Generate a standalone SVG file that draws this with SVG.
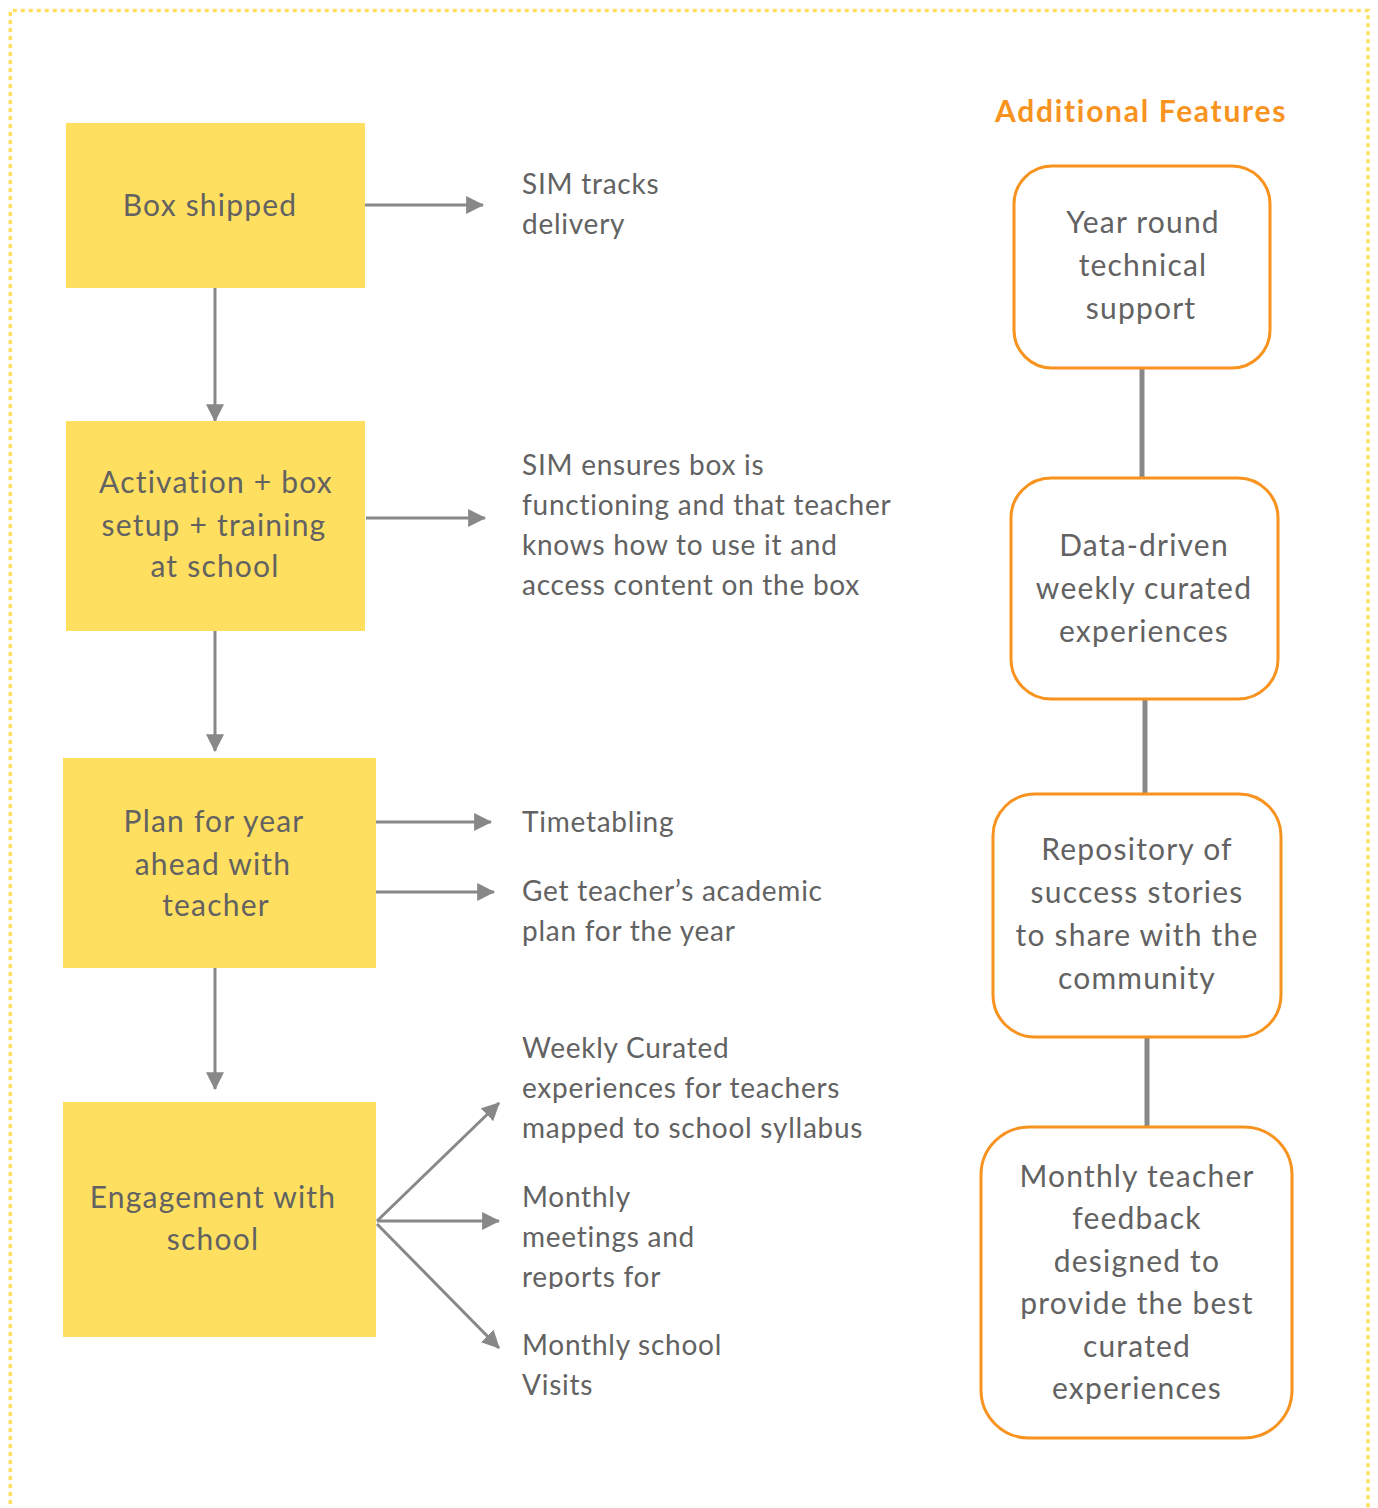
<svg xmlns="http://www.w3.org/2000/svg" width="1378" height="1508" viewBox="0 0 1378 1508">
<style>
.step{fill:#FFDF5F}
.feat{fill:#FFFFFF;stroke:#F7931E;stroke-width:3}
.t{font-family:Lato,"Open Sans","Liberation Sans",sans-serif;fill:#626262}
.c{text-anchor:middle;font-size:30px;letter-spacing:1.2px}
.s{font-size:28px;letter-spacing:0.75px}
.arr{stroke:#888888;stroke-width:3;fill:none;marker-end:url(#ah)}
.link{stroke:#888888;stroke-width:5;fill:none}
.title{font-family:Lato,"Open Sans","Liberation Sans",sans-serif;font-weight:bold;font-size:30px;letter-spacing:1.7px;fill:#F7931E}
</style>
<defs>
<marker id="ah" markerUnits="userSpaceOnUse" markerWidth="18" markerHeight="18" viewBox="0 0 16 16" refX="15" refY="8" orient="auto">
<path d="M0,0 L16,8 L0,16 Z" fill="#888888"/>
</marker>
<clipPath id="clipRep"><rect x="500" y="1150" width="300" height="139"/></clipPath>
</defs>
<rect x="0" y="0" width="1378" height="1508" fill="#FFFFFF"/>
<path d="M10.3,1520 L10.3,10.5 L1368,10.5 L1368,1520" fill="none" stroke="#FFDF5F" stroke-width="3.5" stroke-dasharray="4 4"/>

<g id="connectors">
<line class="arr" x1="215" y1="288" x2="215" y2="421"/>
<line class="arr" x1="215" y1="631" x2="215" y2="751"/>
<line class="arr" x1="215" y1="968" x2="215" y2="1089"/>
<line class="arr" x1="365" y1="205" x2="483" y2="205"/>
<line class="arr" x1="366" y1="518" x2="485" y2="518"/>
<line class="arr" x1="373" y1="822" x2="491" y2="822"/>
<line class="arr" x1="376" y1="892" x2="494" y2="892"/>
<line class="arr" x1="377" y1="1221" x2="499" y2="1103"/>
<line class="arr" x1="377" y1="1221" x2="499" y2="1221"/>
<line class="arr" x1="377" y1="1224" x2="499" y2="1348"/>
<line class="link" x1="1142" y1="368" x2="1142" y2="478"/>
<line class="link" x1="1145" y1="699" x2="1145" y2="794"/>
<line class="link" x1="1147" y1="1037" x2="1147" y2="1127"/>
</g>

<g id="box-shipped">
<rect class="step" x="66" y="123" width="299" height="165"/>
<text class="t c" x="210" y="216">Box shipped</text>
</g>
<g id="activation">
<rect class="step" x="66" y="421" width="299" height="210"/>
<text class="t c" x="216" y="493">Activation + box</text>
<text class="t c" x="214" y="536">setup + training</text>
<text class="t c" x="215" y="577">at school</text>
</g>
<g id="plan">
<rect class="step" x="63" y="758" width="313" height="210"/>
<text class="t c" x="214" y="832">Plan for year</text>
<text class="t c" x="213" y="875">ahead with</text>
<text class="t c" x="216" y="916">teacher</text>
</g>
<g id="engagement">
<rect class="step" x="63" y="1102" width="313" height="235"/>
<text class="t c" x="213" y="1208">Engagement with</text>
<text class="t c" x="213" y="1250">school</text>
</g>

<g id="sim-tracks">
<text class="t s" x="522" y="194">SIM tracks</text>
<text class="t s" x="522" y="234">delivery</text>
</g>
<g id="sim-ensures">
<text class="t s" x="522" y="475">SIM ensures box is</text>
<text class="t s" x="522" y="515">functioning and that teacher</text>
<text class="t s" x="522" y="555">knows how to use it and</text>
<text class="t s" x="522" y="595">access content on the box</text>
</g>
<g id="timetabling">
<text class="t s" x="522" y="832">Timetabling</text>
</g>
<g id="academic-plan">
<text class="t s" x="522" y="901">Get teacher’s academic</text>
<text class="t s" x="522" y="941">plan for the year</text>
</g>
<g id="weekly-curated">
<text class="t s" x="522" y="1058">Weekly Curated</text>
<text class="t s" x="522" y="1098">experiences for teachers</text>
<text class="t s" x="522" y="1138">mapped to school syllabus</text>
</g>
<g id="monthly-meetings" clip-path="url(#clipRep)">
<text class="t s" x="522" y="1207">Monthly</text>
<text class="t s" x="522" y="1247">meetings and</text>
<text class="t s" x="522" y="1287">reports for</text>
</g>
<g id="monthly-visits">
<text class="t s" x="522" y="1355">Monthly school</text>
<text class="t s" x="522" y="1395">Visits</text>
</g>

<g id="additional-features-title">
<text class="title" x="995" y="122">Additional Features</text>
</g>
<g id="tech-support">
<rect class="feat" x="1014" y="166" width="256" height="202" rx="38"/>
<text class="t c" x="1143" y="233">Year round</text>
<text class="t c" x="1143" y="276">technical</text>
<text class="t c" x="1141" y="319">support</text>
</g>
<g id="data-driven">
<rect class="feat" x="1011" y="478" width="267" height="221" rx="40"/>
<text class="t c" x="1144" y="556">Data-driven</text>
<text class="t c" x="1144" y="599">weekly curated</text>
<text class="t c" x="1144" y="642">experiences</text>
</g>
<g id="repository">
<rect class="feat" x="993" y="794" width="288" height="243" rx="42"/>
<text class="t c" x="1137" y="860">Repository of</text>
<text class="t c" x="1137" y="903">success stories</text>
<text class="t c" x="1137" y="946">to share with the</text>
<text class="t c" x="1137" y="989">community</text>
</g>
<g id="teacher-feedback">
<rect class="feat" x="981" y="1127" width="311" height="311" rx="48"/>
<text class="t c" x="1137" y="1187">Monthly teacher</text>
<text class="t c" x="1137" y="1229">feedback</text>
<text class="t c" x="1137" y="1272">designed to</text>
<text class="t c" x="1137" y="1314">provide the best</text>
<text class="t c" x="1137" y="1357">curated</text>
<text class="t c" x="1137" y="1399">experiences</text>
</g>
</svg>
